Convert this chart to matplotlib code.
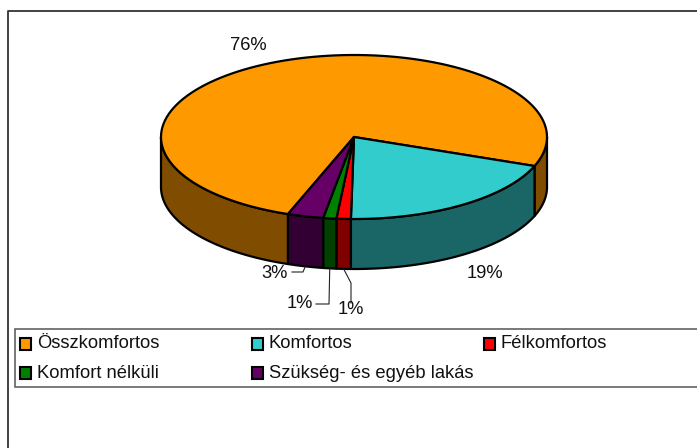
import numpy as np
import matplotlib
matplotlib.use("Agg")
import matplotlib.pyplot as plt
from matplotlib.patches import Polygon, Rectangle

plt.rcParams['font.family'] = ['Liberation Sans', 'DejaVu Sans']

categories = ["Összkomfortos", "Komfortos", "Félkomfortos", "Komfort nélküli", "Szükség- és egyéb lakás"]
values = [75.2, 19.5, 1.2, 1.1, 3.0]
pct_labels = ["76%", "19%", "1%", "1%", "3%"]
top_colors = ["#FF9900", "#33CCCC", "#FF0000", "#008000", "#660066"]
side_colors = ["#804D00", "#1A6666", "#800000", "#004000", "#330033"]

# pie geometry, in pixels
cx, cy = 354, 137
rx, ry = 193, 82
depth = 50
start = -110.0
label_pos = [(248, 46), (485, 273), (351, 310), (300, 304), (275, 273)]
# leader elbows per slice (None = no leader)
leaders = [None, None,
           [(351, 283), (351, 303)],
           [(329, 304), (316, 304)],
           [(303, 272), (292, 272)]]

fig = plt.figure(figsize=(6.97, 4.48), dpi=100)
ax = fig.add_axes([0, 0, 1, 1])
ax.set_xlim(0, 697)
ax.set_ylim(448, 0)
ax.axis("off")

# outer frame
ax.plot([7.5, 7.5, 697], [448, 11.5, 11.5], color="#333333", lw=1.3)


def rim(t0, t1, dy=0):
    t = np.radians(np.linspace(t0, t1, 120))
    return np.column_stack([cx + rx*np.cos(t), cy - ry*np.sin(t) + dy])


# slices go clockwise from the start angle, the first one ends there
slices = []
b = start
for v in values:
    span = 360*v/sum(values)
    slices.append((b - span, b))
    b -= span

for (t0, t1), side in zip(slices, side_colors):
    # visible wall = the part of the slice with sin(t) < 0
    for lo, hi in [(-180, 0), (-540, -360)]:
        a0, a1 = max(t0, lo), min(t1, hi)
        if a1 <= a0:
            continue
        top = rim(a0, a1)
        bot = rim(a1, a0, depth)
        ax.add_patch(Polygon(np.vstack([top, bot]), closed=True, fc=side, ec="black", lw=1.6, joinstyle="round"))

for (t0, t1), col in zip(slices, top_colors):
    pts = np.vstack([[(cx, cy)], rim(t0, t1)])
    ax.add_patch(Polygon(pts, closed=True, fc=col, ec="black", lw=1.6, joinstyle="round"))

for (t0, t1), txt, pos, elbow in zip(slices, pct_labels, label_pos, leaders):
    ax.text(pos[0], pos[1], txt, fontsize=13.2, ha="center", va="center", color="#111111")
    if elbow:
        s = rim((t0+t1)/2, (t0+t1)/2, depth)[0]
        xs = [s[0]] + [p[0] for p in elbow]
        ys = [s[1]] + [p[1] for p in elbow]
        ax.plot(xs, ys, color="#222222", lw=0.8)

# legend, drawn by hand since it runs off the right side
ax.add_patch(Rectangle((14.5, 329.5), 690, 58, fc="white", ec="#555555", lw=1.1))
col_x = [20, 252, 484]
row_y = [344, 373]
for i, (name, col) in enumerate(zip(categories, top_colors)):
    x = col_x[i % 3]
    y = row_y[i // 3]
    ax.add_patch(Rectangle((x, y-6), 11, 12, fc=col, ec="black", lw=1.5))
    ax.text(x+17, y, name, fontsize=13.2, va="center", ha="left", color="#111111")

fig.savefig("out.png", dpi=100)
